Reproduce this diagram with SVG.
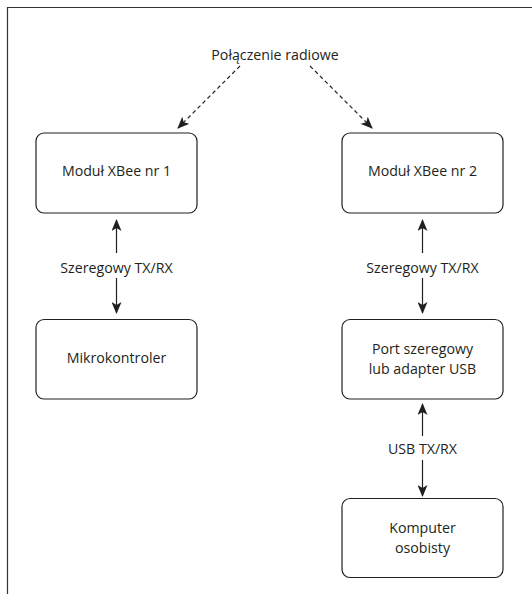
<svg xmlns="http://www.w3.org/2000/svg" width="532" height="594" viewBox="0 0 532 594">
<style>
.frame{fill:none;stroke:#333;stroke-width:1.2}
.box{fill:#fff;stroke:#231f20;stroke-width:1.2}
.t{font-family:"Open Sans","Liberation Sans",sans-serif;font-size:14.2px;fill:#231f20;text-anchor:middle}
.c{fill:none;stroke:#231f20;stroke-width:1.2}
.d{fill:none;stroke:#231f20;stroke-width:1.2;stroke-dasharray:4 3}
</style>
<defs>
<marker id="ah" viewBox="0 0 12 10" refX="11" refY="5" markerWidth="12" markerHeight="10" markerUnits="userSpaceOnUse" orient="auto">
<path d="M0,0 L12,5 L0,10 L3,5 Z" fill="#231f20"/>
</marker>
</defs>
<rect width="532" height="594" fill="#fff"/>
<path class="frame" d="M7.5,594 V7.5 H532"/>
<g id="label-radio"><text class="t" x="275" y="60">Połączenie radiowe</text></g>
<g id="connectors">
<line class="d" x1="240" y1="66" x2="178" y2="128" marker-end="url(#ah)"/>
<line class="d" x1="310" y1="66" x2="372" y2="128" marker-end="url(#ah)"/>
<line class="c" x1="116.5" y1="253" x2="116.5" y2="220" marker-end="url(#ah)"/>
<line class="c" x1="116.5" y1="278" x2="116.5" y2="313" marker-end="url(#ah)"/>
<text class="t" x="116.5" y="273">Szeregowy TX/RX</text>
<line class="c" x1="422.5" y1="253" x2="422.5" y2="220" marker-end="url(#ah)"/>
<line class="c" x1="422.5" y1="278" x2="422.5" y2="313" marker-end="url(#ah)"/>
<text class="t" x="422.5" y="273">Szeregowy TX/RX</text>
<line class="c" x1="422.5" y1="436" x2="422.5" y2="404" marker-end="url(#ah)"/>
<line class="c" x1="422.5" y1="460" x2="422.5" y2="496" marker-end="url(#ah)"/>
<text class="t" x="422.5" y="454">USB TX/RX</text>
</g>
<g id="xbee1"><rect class="box" x="36" y="133" width="161" height="80" rx="8"/><text class="t" x="116.5" y="176">Moduł XBee nr 1</text></g>
<g id="xbee2"><rect class="box" x="342" y="133" width="161" height="80" rx="8"/><text class="t" x="422.5" y="176">Moduł XBee nr 2</text></g>
<g id="mcu"><rect class="box" x="36" y="319.5" width="161" height="79.5" rx="8"/><text class="t" x="116.5" y="363">Mikrokontroler</text></g>
<g id="port"><rect class="box" x="342" y="319.5" width="161" height="79.5" rx="8"/><text class="t" x="422.5" y="354">Port szeregowy</text><text class="t" x="422.5" y="373.5">lub adapter USB</text></g>
<g id="pc"><rect class="box" x="342" y="498.5" width="161" height="79" rx="8"/><text class="t" x="422.5" y="533">Komputer</text><text class="t" x="422.5" y="552.5">osobisty</text></g>
</svg>
